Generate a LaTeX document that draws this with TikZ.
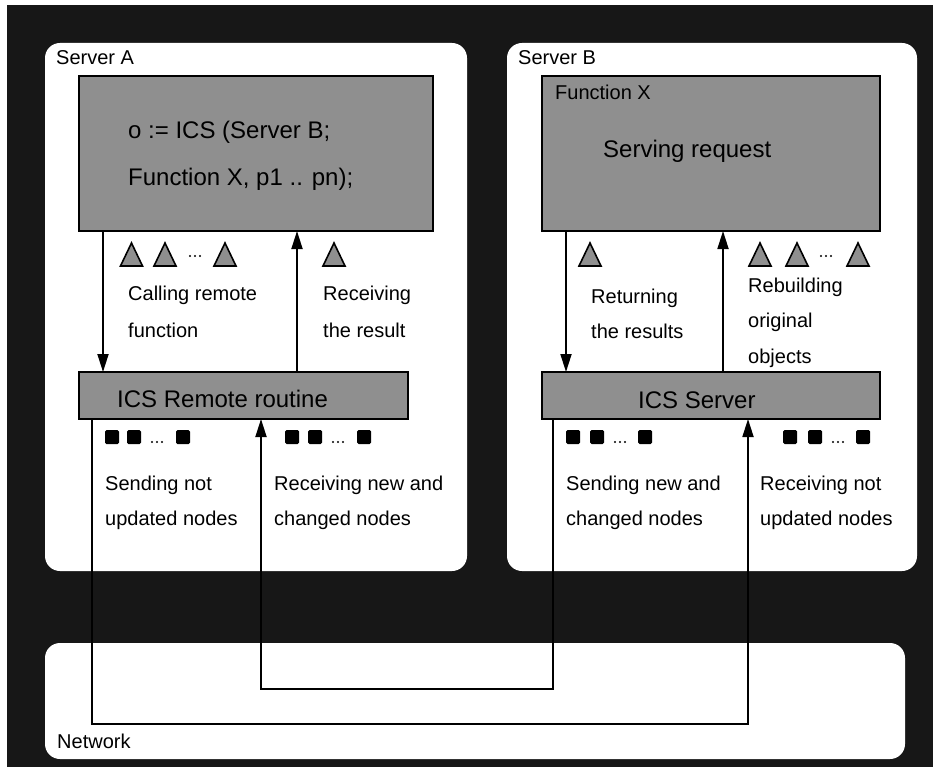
\documentclass[tikz,border=0pt]{standalone}
\usepackage{fontspec}
\setmainfont{Liberation Sans}
\usetikzlibrary{arrows.meta}
\definecolor{bgdark}{gray}{0.09}
\definecolor{boxgray}{gray}{0.56}
\definecolor{trigray}{gray}{0.56}
\newcommand\trimark[1]{\draw[tri] (#1-11,266) -- (#1,243) -- (#1+11,266) -- cycle;}
\newcommand\sqmark[1]{\fill[rounded corners=1.5pt] (#1-7,430) rectangle (#1+7,444);}
\newcommand\dotrow[2]{\foreach \dx in {-5,0,5} {\fill (#1+\dx,#2) circle (1.1);}}
\begin{document}
\begin{tikzpicture}[x=1pt,y=-1pt,
  server/.style={fill=white, draw=none, rounded corners=15pt},
  fbox/.style={draw=black, line width=2pt, fill=boxgray, inner sep=0pt, outer sep=0pt, anchor=north west},
  lbl/.style={anchor=north west, inner sep=0pt, align=left},
  one/.style={anchor=base west, inner sep=0pt, font=\fontsize{20}{24}\selectfont},
  big/.style={anchor=base west, inner sep=0pt, font=\fontsize{24}{29}\selectfont},
  arr/.style={line width=1.8pt, -{Triangle[length=18pt,width=11pt]}},
  tri/.style={draw=black, line width=1.6pt, fill=trigray, line join=miter}
]
\useasboundingbox (0,0) rectangle (933,767);
\fill[white] (0,0) rectangle (933,767);
\fill[bgdark] (7,5) rectangle (933,767);

% server and network panels
\path[server] (45,43) rectangle (467,571);
\path[server] (507,43) rectangle (917,571);
\path[server] (45,643) rectangle (905,759);
\node[one] (srvA) at (56,65) {Server A};
\node[one] (srvB) at (518,65) {Server B};
\node[one] (net) at (57,748) {Network};

% boxes
\node[fbox, minimum width=354, minimum height=155] (fA) at (79,76) {};
\node[fbox, minimum width=338, minimum height=155] (fB) at (542,76) {};
\node[fbox, minimum width=329, minimum height=47] (icsA) at (79,372) {};
\node[fbox, minimum width=338, minimum height=47] (icsB) at (542,372) {};

\node[lbl, font=\fontsize{24}{47}\selectfont] (callcode) at (128,121) {o := ICS (Server B;\\Function X, p1 .. pn);};
\node[one] (fxname) at (555,100) {Function X};
\node[big] (serving) at (603,158) {Serving request};
\node[big] (icsAt) at (117,407) {ICS Remote routine};
\node[big] (icsBt) at (638,408) {ICS Server};

% arrows inside servers
\draw[arr] ([xshift=24]fA.south west) -- ([xshift=24]icsA.north west);
\draw[arr] ([xshift=218]icsA.north west) -- ([xshift=218]fA.south west);
\draw[arr] ([xshift=24]fB.south west) -- ([xshift=24]icsB.north west);
\draw[arr] ([xshift=181]icsB.north west) -- ([xshift=181]fB.south west);

% network loops
\coordinate (o1) at (92,724);
\coordinate (o2) at (748,724);
\coordinate (i1) at (553,689);
\coordinate (i2) at (261,689);
\draw[arr] ([xshift=13]icsA.south west) -- (o1) -- (o2) -- ([xshift=206]icsB.south west);
\draw[arr] ([xshift=11]icsB.south west) -- (i1) -- (i2) -- ([xshift=182]icsA.south west);

% triangles
\trimark{131.5}\trimark{165}\trimark{225}\dotrow{195}{256}
\trimark{334}
\trimark{590}
\trimark{760}\trimark{797}\trimark{858}\dotrow{826}{256}

% squares
\sqmark{112}\sqmark{134}\sqmark{183}\dotrow{157}{442}
\sqmark{292}\sqmark{315}\sqmark{364}\dotrow{338}{442}
\sqmark{573}\sqmark{597}\sqmark{645}\dotrow{620}{442}
\sqmark{790}\sqmark{815}\sqmark{863}\dotrow{838}{442}

% labels
\node[lbl, font=\fontsize{20}{37}\selectfont] (lcall) at (128,285.7) {Calling remote\\function};
\node[lbl, font=\fontsize{20}{37}\selectfont] (lrecv) at (323,285.7) {Receiving\\the result};
\node[lbl, font=\fontsize{20}{35}\selectfont] (lret) at (591,288.7) {Returning\\the results};
\node[lbl, font=\fontsize{20}{35.5}\selectfont] (lreb) at (748,277.7) {Rebuilding\\original\\objects};
\node[lbl, font=\fontsize{20}{35}\selectfont] (lsendA) at (105,475.7) {Sending not\\updated nodes};
\node[lbl, font=\fontsize{20}{35}\selectfont] (lrecvA) at (274,475.7) {Receiving new and\\changed nodes};
\node[lbl, font=\fontsize{20}{35}\selectfont] (lsendB) at (566,475.7) {Sending new and\\changed nodes};
\node[lbl, font=\fontsize{20}{35}\selectfont] (lrecvB) at (760,475.7) {Receiving not\\updated nodes};
\end{tikzpicture}
\end{document}
